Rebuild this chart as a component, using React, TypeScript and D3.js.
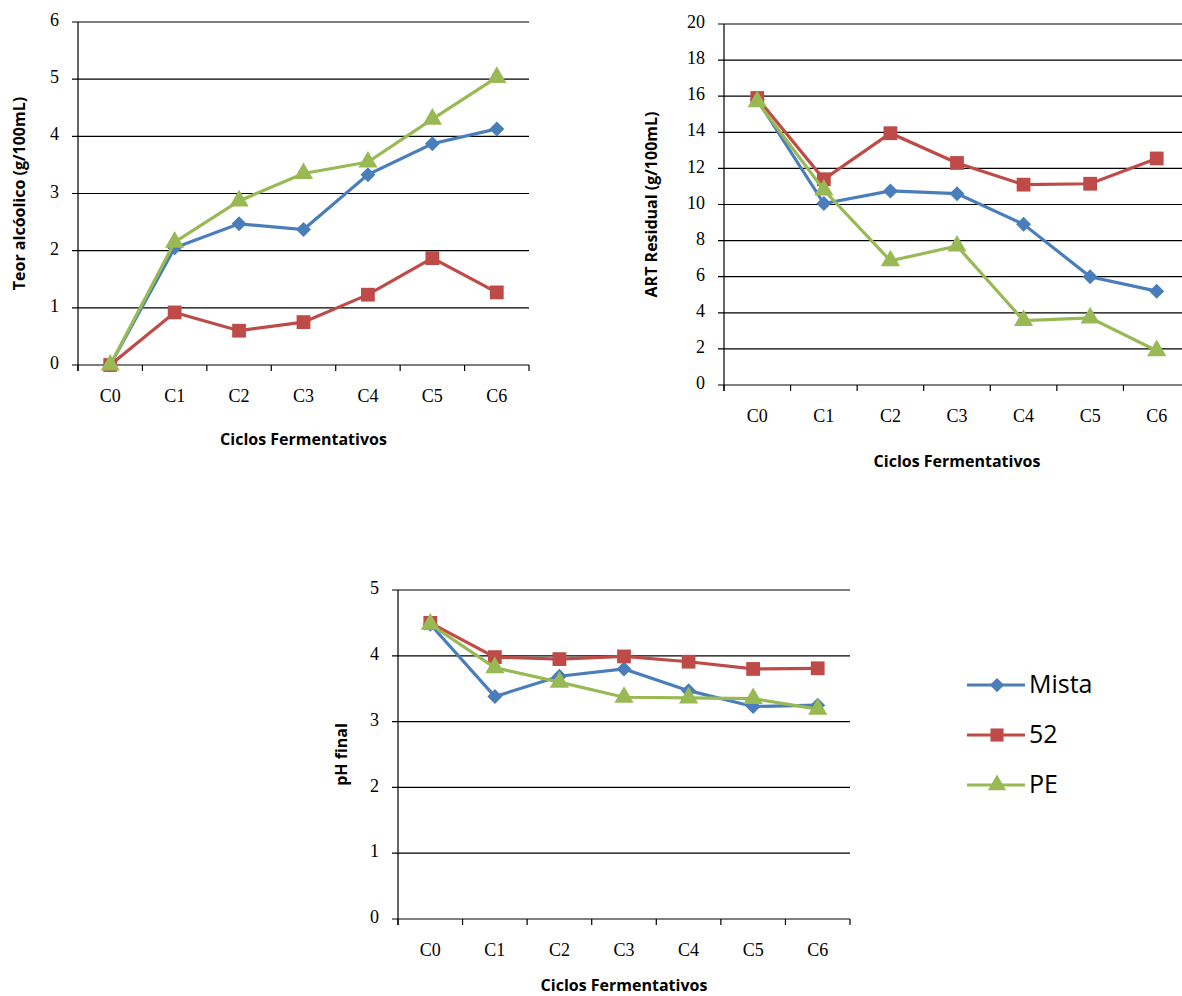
import React from "react";
import * as d3 from "d3";

// data
const ciclos = ["C0", "C1", "C2", "C3", "C4", "C5", "C6"];

const teorMista = [0, 2.05, 2.47, 2.37, 3.33, 3.87, 4.13];
const teor52 = [0, 0.92, 0.6, 0.75, 1.23, 1.87, 1.27];
const teorPE = [0, 2.15, 2.87, 3.35, 3.55, 4.3, 5.03];

const artMista = [15.8, 10.05, 10.75, 10.6, 8.9, 6.0, 5.2];
const art52 = [15.9, 11.4, 13.95, 12.3, 11.1, 11.15, 12.55];
const artPE = [15.7, 10.8, 6.88, 7.7, 3.57, 3.72, 1.9];

const phMista = [4.48, 3.38, 3.69, 3.8, 3.47, 3.23, 3.25];
const ph52 = [4.5, 3.98, 3.95, 3.99, 3.91, 3.8, 3.81];
const phPE = [4.48, 3.82, 3.6, 3.37, 3.36, 3.35, 3.19];

const seriesNames = ["Mista", "52", "PE"];
const colors = ["#4a7ebb", "#be4b48", "#98b954"];

const tickFont = "'Liberation Serif', serif";
const titleFont = "'Open Sans', sans-serif";

// excel-ish markers: diamond is a rotated square, not d3's narrow one
function marker(i: number, s = 1) {
  if (i === 0) {
    const r = 7.5 * s;
    return `M0,${-r}L${r},0L0,${r}L${-r},0Z`;
  }
  if (i === 1) return d3.symbol().type(d3.symbolSquare).size(190 * s * s)() as string;
  return d3.symbol().type(d3.symbolTriangle).size(160 * s * s)() as string;
}

type ChartProps = {
  x0: number;
  x1: number;
  y0: number; // top
  y1: number; // bottom (zero)
  ymax: number;
  step: number;
  series: number[][];
  yTitle: string;
  yTitleX: number;
  xTitleY: number;
};

const LineChart = ({ x0, x1, y0, y1, ymax, step, series, yTitle, yTitleX, xTitleY }: ChartProps) => {
  const x = d3.scaleBand().domain(ciclos).range([x0, x1]);
  const y = d3.scaleLinear().domain([0, ymax]).range([y1, y0]);
  const ticks = d3.range(0, ymax + step / 2, step);
  const cx = (i: number) => (x(ciclos[i]) as number) + x.bandwidth() / 2;
  const line = d3
    .line<number>()
    .x((_, i) => cx(i))
    .y((d) => y(d));
  const boundaries = d3.range(0, ciclos.length + 1).map((i) => x0 + i * x.step());

  return (
    <g>
      {/* gridlines + y ticks */}
      {ticks.map((t) => (
        <g key={t}>
          <line x1={x0 - 6} x2={x1} y1={y(t)} y2={y(t)} stroke="#000" strokeWidth={1.2} />
          <text
            x={x0 - 19}
            y={y(t)}
            textAnchor="end"
            dominantBaseline="middle"
            fontFamily={tickFont}
            fontSize={18}
          >
            {t}
          </text>
        </g>
      ))}
      <line x1={x0} x2={x0} y1={y0} y2={y1 + 6} stroke="#000" strokeWidth={1.2} />
      {boundaries.map((bx, i) => (
        <line key={i} x1={bx} x2={bx} y1={y1} y2={y1 + 6} stroke="#000" strokeWidth={1.2} />
      ))}
      {ciclos.map((c, i) => (
        <text
          key={c}
          x={cx(i)}
          y={y1 + 33}
          textAnchor="middle"
          dominantBaseline="middle"
          fontFamily={tickFont}
          fontSize={18}
        >
          {c}
        </text>
      ))}
      <text
        x={(x0 + x1) / 2}
        y={xTitleY}
        textAnchor="middle"
        dominantBaseline="middle"
        fontFamily={titleFont}
        fontWeight="bold"
        fontSize={16}
      >
        Ciclos Fermentativos
      </text>
      <text
        transform={`translate(${yTitleX},${(y0 + y1) / 2}) rotate(-90)`}
        textAnchor="middle"
        dominantBaseline="middle"
        fontFamily={titleFont}
        fontWeight="bold"
        fontSize={16}
      >
        {yTitle}
      </text>
      {series.map((s, si) => (
        <g key={si}>
          <path d={line(s) as string} fill="none" stroke={colors[si]} strokeWidth={3.2} />
          {s.map((v, i) => (
            <path
              key={i}
              d={marker(si)}
              transform={`translate(${cx(i)},${y(v)})`}
              fill={colors[si]}
            />
          ))}
        </g>
      ))}
    </g>
  );
};

export default function App() {
  return (
    <svg
      width={1182}
      height={996}
      style={{ position: "absolute", left: 0, top: 0, background: "#fff" }}
    >
      <rect width={1182} height={996} fill="#fff" />
      <LineChart
        x0={78}
        x1={529}
        y0={22}
        y1={365}
        ymax={6}
        step={1}
        series={[teorMista, teor52, teorPE]}
        yTitle="Teor alcóolico (g/100mL)"
        yTitleX={21}
        xTitleY={441}
      />
      <LineChart
        x0={724}
        x1={1190}
        y0={24}
        y1={385}
        ymax={20}
        step={2}
        series={[artMista, art52, artPE]}
        yTitle="ART Residual (g/100mL)"
        yTitleX={653}
        xTitleY={463}
      />
      <LineChart
        x0={398}
        x1={850}
        y0={590}
        y1={919}
        ymax={5}
        step={1}
        series={[phMista, ph52, phPE]}
        yTitle="pH final"
        yTitleX={343}
        xTitleY={987}
      />
      {/* legend */}
      {seriesNames.map((n, i) => (
        <g key={n} transform={`translate(0,${685 + i * 50})`}>
          <line x1={967} x2={1025} y1={0} y2={0} stroke={colors[i]} strokeWidth={3.2} />
          <path d={marker(i, 0.95)} transform="translate(997,0)" fill={colors[i]} />
          <text
            x={1029}
            y={1}
            dominantBaseline="middle"
            fontFamily={titleFont}
            fontSize={25}
          >
            {n}
          </text>
        </g>
      ))}
    </svg>
  );
}
